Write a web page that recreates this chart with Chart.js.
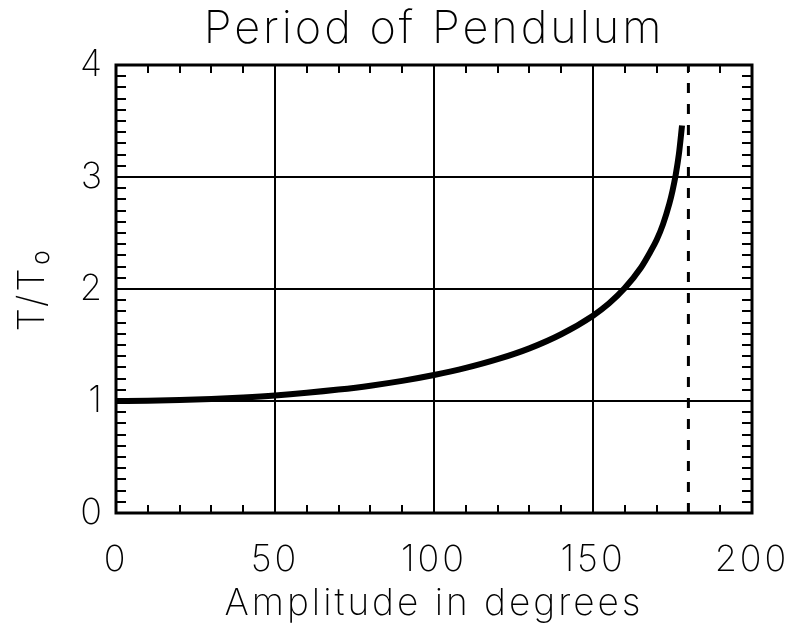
<!DOCTYPE html>
<html>
<head>
<meta charset="utf-8">
<script src="https://cdn.jsdelivr.net/npm/chart.js@4/dist/chart.umd.min.js"></script>
<style>
  html, body { margin: 0; background: #fff; }
</style>
</head>
<body>
<canvas id="chart" width="788" height="628"></canvas>
<script>
// Pendulum period ratio.
const AMPLITUDE = [0, 10, 20, 30, 40, 50, 60, 70, 80, 90, 100, 110, 120, 130, 140,
  150, 155, 160, 165, 168, 170, 172, 174, 175, 176, 177, 178];
const PERIOD_RATIO = [1.000, 1.002, 1.008, 1.017, 1.031, 1.049, 1.073, 1.102, 1.137, 1.180,
  1.232, 1.295, 1.373, 1.470, 1.596, 1.762, 1.870, 2.008, 2.187, 2.33, 2.437, 2.577,
  2.761, 2.877, 3.018, 3.201, 3.46];
// Dashed limit line at 180 degrees.
const LIMIT_X = [180, 180];
const LIMIT_Y = [0, 4];

const FONT = "Inter, 'DejaVu Sans', sans-serif";
const INK = "#000";

const isMult = (v, m) => Math.abs(v / m - Math.round(v / m)) < 1e-6;

// The original uses a wide stroke font; a little tracking gets Inter close to it.
const trackingPlugin = {
  id: "tracking",
  beforeDraw(chart) {
    chart.ctx.letterSpacing = "3px";
  },
};

// Box around the plot plus IDL-style inward minor ticks on all four sides.
const framePlugin = {
  id: "frame",
  afterDraw(chart) {
    const { ctx, chartArea: a, scales } = chart;
    ctx.save();
    ctx.strokeStyle = INK;
    ctx.lineWidth = 2;
    for (const t of scales.x.ticks) {
      const px = Math.round(scales.x.getPixelForValue(t.value));
      ctx.beginPath();
      ctx.moveTo(px, a.bottom); ctx.lineTo(px, a.bottom - 8);
      ctx.moveTo(px, a.top); ctx.lineTo(px, a.top + 8);
      ctx.stroke();
    }
    for (const t of scales.y.ticks) {
      const py = Math.round(scales.y.getPixelForValue(t.value));
      ctx.beginPath();
      ctx.moveTo(a.left, py); ctx.lineTo(a.left + 10, py);
      ctx.moveTo(a.right, py); ctx.lineTo(a.right - 10, py);
      ctx.stroke();
    }
    ctx.lineWidth = 3;
    ctx.strokeRect(a.left, a.top, a.right - a.left, a.bottom - a.top);
    ctx.restore();
  },
};

new Chart(document.getElementById("chart"), {
  type: "line",
  data: {
    datasets: [
      {
        data: AMPLITUDE.map((x, i) => ({ x, y: PERIOD_RATIO[i] })),
        borderColor: INK, borderWidth: 6, pointRadius: 0,
        cubicInterpolationMode: "monotone", fill: false,
      },
      {
        data: LIMIT_X.map((x, i) => ({ x, y: LIMIT_Y[i] })),
        borderColor: INK, borderWidth: 3, borderDash: [10, 11], pointRadius: 0,
        fill: false,
      },
    ],
  },
  plugins: [trackingPlugin, framePlugin],
  options: {
    responsive: false,
    animation: false,
    layout: { padding: 0 },
    plugins: {
      legend: { display: false },
      tooltip: { enabled: false },
      title: {
        display: true, fullSize: false,
        text: "Period of Pendulum", color: INK,
        font: { family: FONT, size: 45, weight: 200, lineHeight: 1 },
        padding: { top: 7, bottom: 13 },
      },
    },
    scales: {
      x: {
        type: "linear", min: 0, max: 200,
        afterFit: (s) => { s.height = 115; s.paddingLeft = 0; s.paddingRight = 36; },
        ticks: {
          stepSize: 10, autoSkip: false, maxRotation: 0, color: INK, padding: 26,
          font: { family: FONT, size: 36, weight: 200 },
          callback: (v) => (isMult(v, 50) ? String(v) : ""),
        },
        grid: {
          drawTicks: false, lineWidth: 2,
          color: (c) => (c.tick && isMult(c.tick.value, 50) ? INK : "rgba(0,0,0,0)"),
        },
        border: { display: false },
        title: {
          display: true, text: "Amplitude in degrees", color: INK,
          font: { family: FONT, size: 37, weight: 200, lineHeight: 1 },
          padding: { top: 0, bottom: 6 },
        },
      },
      y: {
        min: 0, max: 4,
        afterFit: (s) => { s.width = 116; },
        ticks: {
          stepSize: 0.1, autoSkip: false, color: INK, padding: 11,
          font: { family: FONT, size: 36, weight: 200 },
          callback: (v) => (isMult(v, 1) ? String(Math.round(v)) : ""),
        },
        grid: {
          drawTicks: false, lineWidth: 2,
          color: (c) => (c.tick && isMult(c.tick.value, 1) ? INK : "rgba(0,0,0,0)"),
        },
        border: { display: false },
        title: {
          display: true, text: "T/T\u2080", color: INK,
          font: { family: FONT, size: 37, weight: 200, lineHeight: 1 },
          padding: { top: 14, bottom: 0 },
        },
      },
    },
  },
});
</script>
</body>
</html>
